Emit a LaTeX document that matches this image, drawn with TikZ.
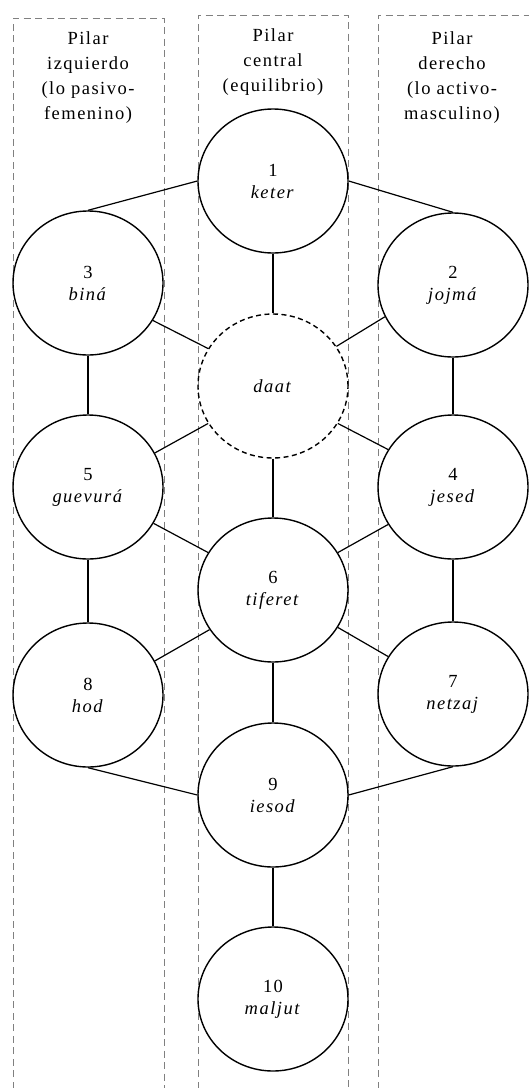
\documentclass[tikz,border=0pt]{standalone}
\usepackage{fontspec}
\setmainfont[LetterSpace=8]{Liberation Serif}
\usetikzlibrary{shapes.geometric}
\begin{document}
\begin{tikzpicture}[x=1pt,y=-1pt,
  sef/.style={ellipse,draw,line width=1.4pt,minimum width=150pt,minimum height=144pt,inner sep=0pt,align=center,font=\fontsize{18.5}{22}\selectfont},
  hidden/.style={sef,dash pattern=on 5pt off 3.5pt},
  pilbox/.style={draw=gray,line width=1pt,dash pattern=on 7pt off 4.5pt},
  pillab/.style={anchor=north,inner sep=0pt,align=center,font=\fontsize{18.5}{25}\selectfont},
  link/.style={draw,line width=1.2pt}]
\useasboundingbox (0,0) rectangle (529,1088);
% pillars
\draw[pilbox] (13,1100) -- (13,18) -- (164,18) -- (164,1100);
\draw[pilbox] (198,1100) -- (198,15) -- (348,15) -- (348,1100);
\draw[pilbox] (378,1100) -- (378,15) -- (540,15) -- (540,1100);
\node[pillab] (pl) at (88,31) {Pilar\\izquierdo\\(lo pasivo-\\femenino)};
\node[pillab] (pc) at (273,28) {Pilar\\central\\(equilibrio)};
\node[pillab] (pr) at (452,31) {Pilar\\derecho\\(lo activo-\\masculino)};
% sefirot
\node[sef] (n1) at (273,181) {1\\\textit{keter}};
\node[sef] (n3) at (88,283) {3\\\textit{biná}};
\node[sef] (n2) at (453,285) {2\\\textit{jojmá}};
\node[hidden] (daat) at (273,386) {\textit{daat}};
\node[sef] (n5) at (88,487) {5\\\textit{guevurá}};
\node[sef] (n4) at (453,487) {4\\\textit{jesed}};
\node[sef] (n6) at (273,590) {6\\\textit{tiferet}};
\node[sef] (n8) at (88,695) {8\\\textit{hod}};
\node[sef] (n7) at (453,694) {7\\\textit{netzaj}};
\node[sef] (n9) at (273,795) {9\\\textit{iesod}};
\node[sef] (n10) at (273,999) {10\\\textit{maljut}};
% connectors
\draw[link] (n1.west) -- (n3.north);
\draw[link] (n1.east) -- (n2.north);
\draw[link] (n1.south) -- (daat.north);
\draw[link] (n3.-30) -- (daat.150);
\draw[link] (n2.205) -- (daat.32);
\draw[link] (n3.south) -- (n5.north);
\draw[link] (n2.south) -- (n4.north);
\draw[link] (daat.210) -- (n5.27);
\draw[link] (daat.-30) -- (n4.150);
\draw[link] (daat.south) -- (n6.north);
\draw[link] (n5.-29) -- (n6.150);
\draw[link] (n4.210) -- (n6.30);
\draw[link] (n5.south) -- (n8.north);
\draw[link] (n4.south) -- (n7.north);
\draw[link] (n6.212) -- (n8.27);
\draw[link] (n6.-30) -- (n7.150);
\draw[link] (n6.south) -- (n9.north);
\draw[link] (n8.south) -- (n9.west);
\draw[link] (n7.south) -- (n9.east);
\draw[link] (n9.south) -- (n10.north);
\end{tikzpicture}
\end{document}
